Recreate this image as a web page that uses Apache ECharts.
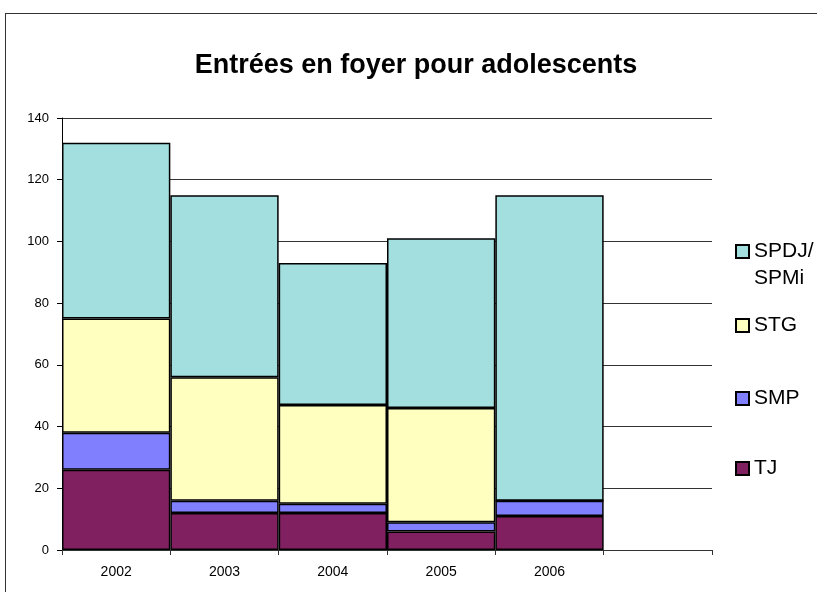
<!DOCTYPE html>
<html>
<head>
<meta charset="utf-8">
<script src="https://cdn.jsdelivr.net/npm/echarts@6/dist/echarts.min.js"></script>
<style>
  html, body { margin: 0; padding: 0; background: #fff; }
  #frame { position: absolute; left: 5px; top: 13px; width: 900px; height: 700px; border: 1px solid #333; box-sizing: border-box; }
  #chart { position: absolute; left: 0; top: 0; width: 817px; height: 592px; }
</style>
</head>
<body>
<div id="frame"></div>
<div id="chart"></div>
<script>
// années (la 6e case reste vide comme dans l'original)
const years = ["2002", "2003", "2004", "2005", "2006", ""];
const tj = [26, 12, 12, 6, 11, "-"];
const smp = [12, 4, 3, 3, 5, "-"];
const stg = [37, 40, 32, 37, 0, "-"];
const spdj = [57, 59, 46, 55, 99, "-"];

const COLORS = {
  tj: "#802060",
  smp: "#8080ff",
  stg: "#ffffc0",
  spdj: "#a3dfdf",
};

const FONT = "Liberation Sans, Arial, sans-serif";

const makeSeries = (name, data, color) => ({
  name: name,
  type: "bar",
  stack: "total",
  data: data,
  barCategoryGap: "0%",
  itemStyle: {
    color: color,
    borderColor: "#000",
    borderWidth: 1.5,
  },
});

// une légende par entrée pour garder les espacements d'Excel
const legendAt = (name, top) => ({
  data: [{ name: name, icon: "rect" }],
  left: 735,
  top: top,
  padding: 0,
  orient: "vertical",
  itemWidth: 13,
  itemHeight: 13,
  // ligne vide devant un nom sur deux lignes : le carré reste en face de la 1re ligne
  formatter: n => (n.indexOf("\n") >= 0 ? " \n" + n : n),
  textStyle: {
    fontFamily: FONT,
    fontSize: 21,
    color: "#000",
    lineHeight: 27,
  },
});

const chart = echarts.init(document.getElementById("chart"));
chart.setOption({
  animation: false,
  title: {
    text: "Entrées en foyer pour adolescents",
    left: 411,
    textAlign: "center",
    top: 47,
    textStyle: { fontFamily: FONT, fontSize: 27, fontWeight: "bold", color: "#000" },
  },
  legend: [
    legendAt("SPDJ/\nSPMi", 211),
    legendAt("STG", 312),
    legendAt("SMP", 385),
    legendAt("TJ", 455),
  ],
  grid: { left: 62, top: 118, right: 105, bottom: 42 },
  xAxis: {
    type: "category",
    data: years,
    axisLine: { lineStyle: { color: "#333", width: 1 } },
    axisTick: { show: true, length: 5, lineStyle: { color: "#333" } },
    axisLabel: { fontFamily: FONT, fontSize: 14, color: "#000", margin: 15 },
  },
  yAxis: {
    type: "value",
    min: 0,
    max: 140,
    interval: 20,
    axisLine: { show: true, lineStyle: { color: "#000", width: 1 } },
    axisTick: { show: true, length: 5, lineStyle: { color: "#000" } },
    axisLabel: { fontFamily: FONT, fontSize: 13, color: "#000", margin: 13 },
    splitLine: { lineStyle: { color: "#333", width: 1 } },
  },
  series: [
    makeSeries("TJ", tj, COLORS.tj),
    makeSeries("SMP", smp, COLORS.smp),
    makeSeries("STG", stg, COLORS.stg),
    makeSeries("SPDJ/\nSPMi", spdj, COLORS.spdj),
  ],
});
</script>
</body>
</html>
